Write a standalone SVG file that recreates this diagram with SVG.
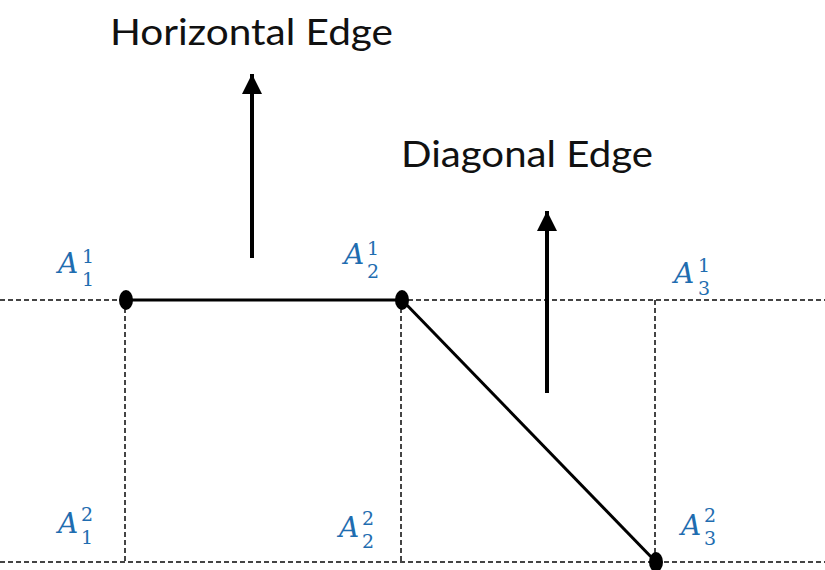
<svg xmlns="http://www.w3.org/2000/svg" width="825" height="570" viewBox="0 0 825 570">
<style>
.grid{stroke:#444;stroke-width:2;stroke-dasharray:5 3;fill:none}
.edge{stroke:#000;stroke-width:3;fill:none}
.arr{stroke:#000;stroke-width:4;fill:none}
.title{font-family:Lato,"Liberation Sans",sans-serif;font-size:36px;fill:#111}
.lbl{font-family:"DejaVu Serif","Liberation Serif",serif;font-style:italic;fill:#1F6DB0}
.big{font-size:28px}
.sm{font-size:19px;font-style:normal}
</style>
<defs>
<marker id="ah" markerWidth="6" markerHeight="5" refX="5" refY="2.5" orient="auto" markerUnits="strokeWidth">
<path d="M0,0 L5,2.5 L0,5 z" fill="#000"/>
</marker>
</defs>
<g id="grid">
<line class="grid" x1="0" y1="300" x2="825" y2="300"/>
<line class="grid" x1="0" y1="562" x2="825" y2="562"/>
<line class="grid" x1="125" y1="300" x2="125" y2="562"/>
<line class="grid" x1="401" y1="300" x2="401" y2="562"/>
<line class="grid" x1="655" y1="300" x2="655" y2="562"/>
</g>
<g id="connectors">
<line class="edge" x1="126" y1="300" x2="402" y2="300"/>
<line class="edge" x1="402" y1="300" x2="656" y2="562"/>
<line class="arr" x1="252" y1="258" x2="252" y2="74" marker-end="url(#ah)"/>
<line class="arr" x1="547" y1="393" x2="547" y2="211" marker-end="url(#ah)"/>
</g>
<g id="node-a11"><ellipse cx="126" cy="300" rx="7" ry="10" fill="#000"/></g>
<g id="node-a21"><ellipse cx="402" cy="300" rx="7" ry="10" fill="#000"/></g>
<g id="node-a32"><ellipse cx="656" cy="562" rx="7" ry="10" fill="#000"/></g>
<g id="title-horizontal"><text class="title" x="110" y="45" textLength="283" lengthAdjust="spacingAndGlyphs">Horizontal Edge</text></g>
<g id="title-diagonal"><text class="title" x="401" y="167" textLength="252" lengthAdjust="spacingAndGlyphs">Diagonal Edge</text></g>
<g id="label-A11" class="lbl"><text class="big" x="58" y="273">A</text><text class="sm" x="82" y="263">1</text><text class="sm" x="82" y="286">1</text></g>
<g id="label-A21" class="lbl"><text class="big" x="344" y="264">A</text><text class="sm" x="367" y="255">1</text><text class="sm" x="367" y="278">2</text></g>
<g id="label-A31" class="lbl"><text class="big" x="674" y="283">A</text><text class="sm" x="698" y="272">1</text><text class="sm" x="698" y="295">3</text></g>
<g id="label-A12" class="lbl"><text class="big" x="58" y="533">A</text><text class="sm" x="81" y="521">2</text><text class="sm" x="81" y="544">1</text></g>
<g id="label-A22" class="lbl"><text class="big" x="339" y="537">A</text><text class="sm" x="362" y="525">2</text><text class="sm" x="362" y="548">2</text></g>
<g id="label-A32" class="lbl"><text class="big" x="681" y="535">A</text><text class="sm" x="704" y="522">2</text><text class="sm" x="704" y="545">3</text></g>
</svg>
